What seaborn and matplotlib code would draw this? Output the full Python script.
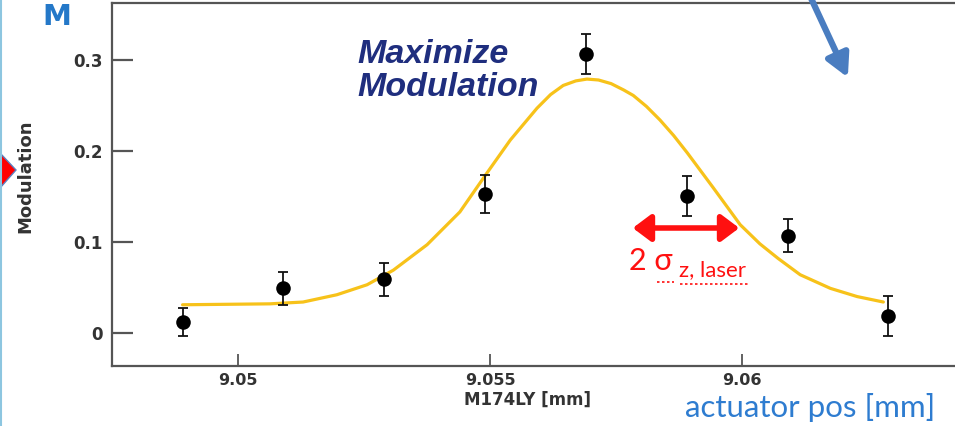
import numpy as np
import pandas as pd
import matplotlib
matplotlib.use("Agg")
import matplotlib.pyplot as plt
from matplotlib.patches import FancyArrowPatch, Polygon
from matplotlib.lines import Line2D
import seaborn as sns

# ---------------- data ----------------
pos_mm = [9.0489, 9.0509, 9.0529, 9.0549, 9.0569, 9.0589, 9.0609, 9.0629]
modulation = [0.012, 0.049, 0.059, 0.153, 0.307, 0.151, 0.107, 0.019]
mod_err = [0.015, 0.018, 0.018, 0.021, 0.022, 0.022, 0.018, 0.022]

fit_x = [9.0489, 9.05063, 9.05129, 9.05196, 9.05256, 9.05308, 9.05375, 9.05440,
         9.05494, 9.05540, 9.05593, 9.05620, 9.05645, 9.05670, 9.05692, 9.05715,
         9.05740, 9.05765, 9.05784, 9.05810, 9.05837, 9.05864, 9.05891, 9.05942,
         9.05996, 9.06035, 9.06071, 9.06115, 9.06175, 9.06228, 9.06280]
fit_y = [0.031, 0.032, 0.034, 0.042, 0.053, 0.069, 0.097, 0.133,
         0.176, 0.212, 0.247, 0.262, 0.272, 0.277, 0.279, 0.278,
         0.274, 0.267, 0.261, 0.249, 0.234, 0.217, 0.198, 0.160,
         0.119, 0.098, 0.082, 0.064, 0.049, 0.040, 0.034]

x_ticks = [9.05, 9.055, 9.06]
x_tick_labels = ["9.05", "9.055", "9.06"]
y_ticks = [0, 0.1, 0.2, 0.3]
y_tick_labels = ["0", "0.1", "0.2", "0.3"]

points = pd.DataFrame({"pos": pos_mm, "mod": modulation, "err": mod_err})
fit = pd.DataFrame({"pos": fit_x, "mod": fit_y})

# ---------------- figure ----------------
sns.set_style("white")
plt.rcParams["font.family"] = ["DejaVu Sans"]

W, H = 955, 426
fig = plt.figure(figsize=(W / 100, H / 100), dpi=100)
fig.patch.set_facecolor("white")


def fx(px):
    return px / W


def fy(py):
    return 1 - py / H


ax_left, ax_right, ax_top, ax_bot = 112, 962, 3, 366
ax = fig.add_axes([fx(ax_left), fy(ax_bot), fx(ax_right - ax_left), (ax_bot - ax_top) / H])

sns.lineplot(data=fit, x="pos", y="mod", ax=ax, color="#F7C21A", linewidth=2.3,
             sort=False, zorder=2)
ax.errorbar(points["pos"], points["mod"], yerr=points["err"], fmt="none",
            ecolor="#111111", elinewidth=1.3, capsize=3.5, capthick=1.3, zorder=3)
sns.scatterplot(data=points, x="pos", y="mod", ax=ax, color="black", s=110,
                edgecolor="black", linewidth=0, zorder=4)

ax.set_xlim(9.0475, 9.06436)
ax.set_ylim(-0.0363, 0.3626)
ax.set_xticks(x_ticks)
ax.set_xticklabels(x_tick_labels)
ax.set_yticks(y_ticks)
ax.set_yticklabels(y_tick_labels)
ax.set_xlabel("")
ax.set_ylabel("")

for s in ["left", "bottom", "top"]:
    ax.spines[s].set_color("#555555")
    ax.spines[s].set_linewidth(1.6)
ax.spines["right"].set_visible(False)

ax.tick_params(axis="y", left=True, direction="in", length=15, width=1.6,
               color="#555555", pad=7, labelsize=12, labelcolor="#333333")
ax.tick_params(axis="x", bottom=True, direction="in", length=9, width=1.3,
               color="#555555", pad=5, labelsize=11.5, labelcolor="#333333")
for lab in ax.get_xticklabels() + ax.get_yticklabels():
    lab.set_fontweight("bold")

# axis titles (ROOT style)
fig.text(fx(527), fy(400), "M174LY [mm]", ha="center", va="center",
         fontsize=12, fontweight="bold", color="#333333")
fig.text(fx(25), fy(176), "Modulation", ha="center", va="center", rotation=90,
         fontsize=13, fontweight="bold", color="#333333")

# slide annotations
fig.text(fx(57), fy(17), "M", ha="center", va="center", fontsize=21,
         fontweight="bold", color="#2478C8")
fig.text(fx(810), fy(408), "actuator pos [mm]", ha="center", va="center",
         fontsize=22.5, color="#2E7CD0", family=["Lato", "DejaVu Sans"])
fig.text(fx(357), fy(71), "Maximize\nModulation", ha="left", va="center",
         fontsize=24.5, fontweight="bold", fontstyle="italic", color="#1F2E7E",
         family=["Liberation Sans", "DejaVu Sans"], linespacing=1.12)

# red double arrow
fig.add_artist(FancyArrowPatch((fx(630), fy(228)), (fx(742), fy(228)),
                               transform=fig.transFigure,
                               arrowstyle="<|-|>,head_length=0.6,head_width=0.45",
                               color="#FF1010", linewidth=4, mutation_scale=18))
fig.text(fx(629), fy(261), "2 σ", ha="left", va="center", fontsize=22,
         color="#FF1010", family=["Lato", "DejaVu Sans"])
fig.text(fx(679), fy(270), "z, laser", ha="left", va="center", fontsize=16,
         color="#FF1010", family=["Lato", "DejaVu Sans"])
fig.add_artist(Line2D([fx(680), fx(750)], [fy(284), fy(284)], transform=fig.transFigure,
                      color="#FF1010", linewidth=1.2, linestyle=(0, (1.5, 1.5))))
fig.add_artist(Line2D([fx(657), fx(674)], [fy(282), fy(282)], transform=fig.transFigure,
                      color="#FF1010", linewidth=1.2, linestyle=(0, (1.5, 1.5))))

# blue arrow top right
fig.add_artist(FancyArrowPatch((fx(810), fy(-4)), (fx(849), fy(80)),
                               transform=fig.transFigure,
                               arrowstyle="-|>,head_length=0.75,head_width=0.4",
                               color="#4A7DC0", linewidth=4.5, mutation_scale=18))

# red triangle marker on left edge
fig.add_artist(Polygon([[fx(0), fy(153)], [fx(16), fy(170)], [fx(0), fy(188)]],
                       closed=True, transform=fig.transFigure,
                       facecolor="#FF0000", edgecolor="#5B7FBF", linewidth=1))
# slide border on the left
fig.add_artist(Line2D([fx(1), fx(1)], [0, 1], transform=fig.transFigure,
                      color="#8DC6E0", linewidth=1.5))

fig.savefig("out.png", dpi=100, facecolor="white")
